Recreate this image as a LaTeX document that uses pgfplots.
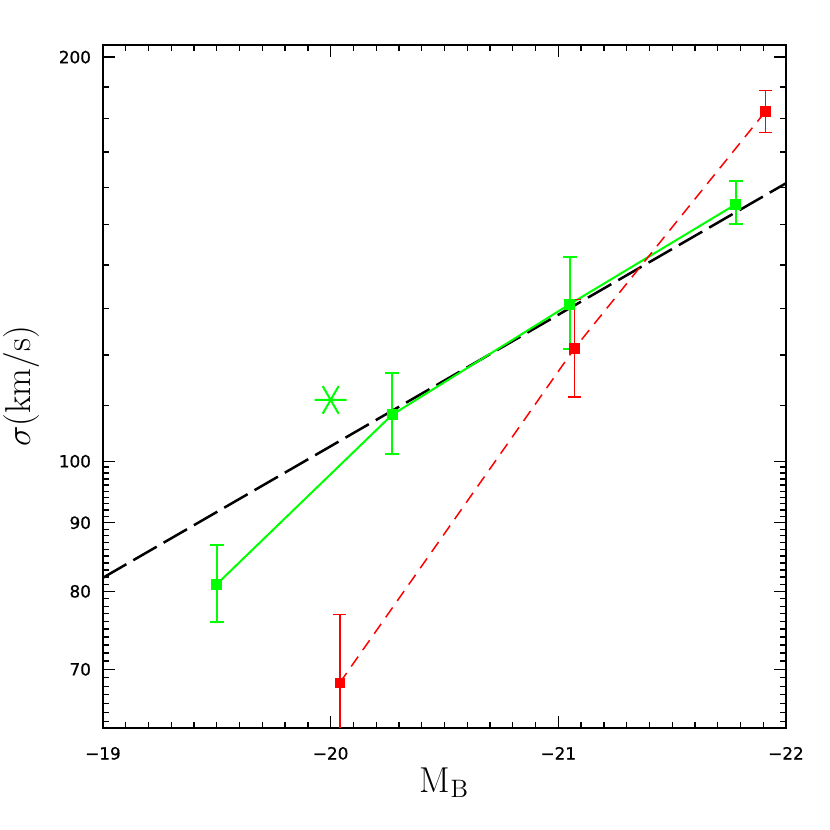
\documentclass[border=0pt]{standalone}
\usepackage{fontspec}
\newfontfamily\tickfont[FakeBold=0.8]{DejaVu Sans}
\usepackage{pgfplots}
\pgfplotsset{compat=1.18}
\definecolor{pgreen}{RGB}{0,255,0}
\definecolor{pred}{RGB}{255,0,0}
\begin{document}
\begin{tikzpicture}
\begin{axis}[
 scale only axis, width=341.5pt, height=341.5pt,
 x dir=reverse, xmin=-22, xmax=-19,
 ymode=log, ymin=63.3, ymax=204.2,
 xtick={-22,-21,-20,-19}, xticklabels={−22,−21,−20,−19},
 minor x tick num=9,
 ytick={70,80,90,100,200}, yticklabels={70,80,90,100,200},
 minor ytick={64,65,66,67,68,69,71,72,73,74,75,76,77,78,79,81,82,83,84,85,86,87,88,89,
   91,92,93,94,95,96,97,98,99,110,120,130,140,150,160,170,180,190},
 tick align=inside, major tick length=6pt, minor tick length=3pt,
 every tick/.style={black, line width=0.65pt},
 axis line style={line width=1pt},
 tick label style={font=\tickfont\fontsize{8.4}{10}\selectfont},
 xticklabel style={yshift=-6pt},
 yticklabel style={xshift=-2.5pt},
 xlabel={M$_{\mathrm{B}}$}, ylabel={$\sigma$(km/s)},
 label style={font=\fontsize{18}{20}\selectfont},
 xlabel style={at={(axis description cs:0.5,-0.08)}, anchor=center},
 ylabel style={at={(axis description cs:-0.12,0.5)}, anchor=center},
]
% fitted relation
\addplot[black, line width=1.25pt, dash pattern=on 13.5pt off 4pt] coordinates {(-19,81.9) (-22,161.1)};
% green sample
\addplot[pgreen, line width=1pt, mark=square*, mark size=2.25pt, mark options={solid},
  error bars/.cd, y dir=both, y explicit,
  error bar style={line width=1pt, pgreen},
  error mark options={rotate=90, mark size=3.5pt, line width=1pt, pgreen}]
 coordinates {
 (-19.50,81.0) += (0,5.6) -= (0,5.1)
 (-20.27,108.3) += (0,8.1) -= (0,7.1)
 (-21.05,130.9) += (0,11.1) -= (0,9.6)
 (-21.78,155.4) += (0,6.2) -= (0,5.3)
 };
% red sample
\addplot[pred, line width=0.75pt, dash pattern=on 6pt off 4pt, mark=square*, mark size=2.25pt, mark options={solid},
  error bars/.cd, y dir=both, y explicit,
  error bar style={line width=0.75pt, pred, solid},
  error mark options={rotate=90, mark size=3.25pt, line width=0.75pt, pred, solid}]
 coordinates {
 (-20.04,68.4) += (0,8.5) -= (0,8.4)
 (-21.07,121.3) += (0,10.7) -= (0,9.6)
 (-21.91,182.2) += (0,6.7) -= (0,6.4)
 };
% single object
\addplot[pgreen, only marks, mark=asterisk, mark size=8pt, mark options={rotate=90, line width=1pt}]
 coordinates {(-20.0,111.1)};
\end{axis}
\pgfresetboundingbox
\path[use as bounding box] (-51.5pt,-51pt) rectangle (363.5pt,364pt);
\end{tikzpicture}
\end{document}
